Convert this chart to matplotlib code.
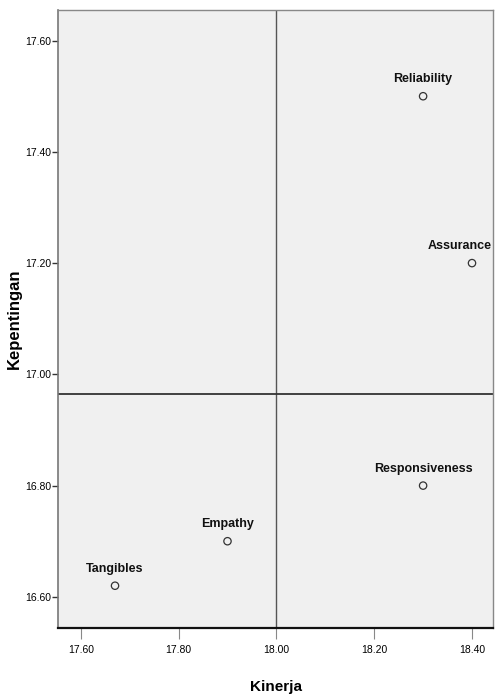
import matplotlib
matplotlib.use("Agg")
import matplotlib.pyplot as plt

# dimensions (atribut layanan)
names = ["Reliability", "Assurance", "Responsiveness", "Empathy", "Tangibles"]
kinerja = [18.30, 18.40, 18.30, 17.90, 17.67]
kepentingan = [17.50, 17.20, 16.80, 16.70, 16.62]

x_ticks = [17.60, 17.80, 18.00, 18.20, 18.40]
y_ticks = [16.60, 16.80, 17.00, 17.20, 17.40, 17.60]

x_cut = 18.00
y_cut = sum(kepentingan) / len(kepentingan)

plt.rcParams['font.family'] = ['Liberation Sans', 'DejaVu Sans']

fig = plt.figure(figsize=(4.97, 6.96), dpi=100)
ax = fig.add_axes([0.1173, 0.0977, 0.8753, 0.8879])
ax.set_facecolor("#f0f0f0")

ax.scatter(kinerja, kepentingan, s=28, facecolors="none", edgecolors="#333333",
           linewidths=0.9, zorder=3)

xmin, xmax = 17.554, 18.4436
for n, x, y in zip(names, kinerja, kepentingan):
    # label above the point, pushed inside if it would run past the right edge
    if xmax - x < 0.06:
        ax.annotate(n, (xmax, y), xytext=(-1, 10), textcoords="offset points",
                    ha="right", va="baseline", fontsize=9, fontweight="bold",
                    color="#111111")
    else:
        ax.annotate(n, (x, y), xytext=(0, 10), textcoords="offset points",
                    ha="center", va="baseline", fontsize=9, fontweight="bold",
                    color="#111111")

ax.axvline(x_cut, color="#555555", lw=1.0, zorder=2)
ax.axhline(y_cut, color="#333333", lw=1.3, zorder=2)

ax.set_xlim(xmin, xmax)
ax.set_ylim(16.544, 17.655)
ax.set_xticks(x_ticks)
ax.set_yticks(y_ticks)
ax.set_xticklabels(["%.2f" % v for v in x_ticks])
ax.set_yticklabels(["%.2f" % v for v in y_ticks])

ax.tick_params(axis="y", length=4, width=1.0, color="#333333", labelsize=7.5, pad=1)
ax.tick_params(axis="x", length=8, width=0.8, color="#888888", labelsize=7.5, pad=4)

for s in ["top", "right"]:
    ax.spines[s].set_color("#888888")
    ax.spines[s].set_linewidth(1.0)
ax.spines["left"].set_color("#777777")
ax.spines["left"].set_linewidth(1.2)
ax.spines["bottom"].set_color("#111111")
ax.spines["bottom"].set_linewidth(1.6)

ax.set_xlabel("Kinerja", fontsize=11, fontweight="bold", va="center")
ax.xaxis.set_label_coords(0.5, -0.0955)
ax.set_ylabel("Kepentingan", fontsize=12, fontweight="bold", va="center")
ax.yaxis.set_label_coords(-0.1, 0.5)

fig.savefig("out.png", dpi=100)
